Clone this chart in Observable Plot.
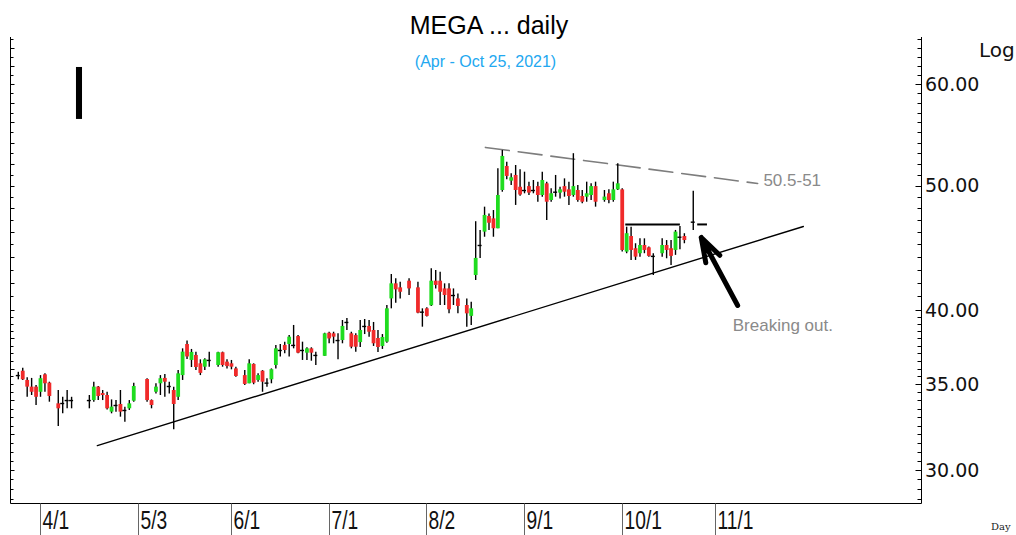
<!DOCTYPE html>
<html><head><meta charset="utf-8">
<script src="https://cdn.jsdelivr.net/npm/d3@7"></script>
<script src="https://cdn.jsdelivr.net/npm/@observablehq/plot@0.6"></script>
<style>body{margin:0;background:#fff}#chart{width:1016px;height:535px}</style>
</head><body><div id="chart"></div>
<script>
// ---- data (weekday index 0 = 2021-03-25; null = no bar drawn) ----
const firstDay = "2021-03-25";
const open = [35.58,35.86,35.27,34.85,34.85,34.53,35.63,35.10,null,33.82,33.84,34.02,34.02,null,null,null,34.02,34.02,34.85,34.45,
34.33,33.32,33.72,33.78,33.42,33.52,33.98,null,null,35.33,34.02,34.53,35.06,35.40,34.89,34.64,34.22,35.58,37.62,36.56,
36.89,36.34,36.12,36.56,null,36.23,37.07,36.45,36.34,36.01,null,35.58,35.06,36.30,35.27,35.86,35.10,35.31,36.23,37.22,
37.56,37.62,37.56,38.16,37.22,37.04,37.33,36.89,null,36.83,38.39,38.35,37.89,37.89,39.14,38.35,38.23,37.75,38.86,38.86,
38.58,38.03,37.49,37.78,40.83,41.95,41.65,null,42.15,null,41.65,39.87,40.11,40.33,42.15,42.15,41.57,41.57,41.08,40.83,
null,40.35,39.57,42.58,44.94,46.03,47.34,47.14,46.31,49.60,51.79,50.44,50.96,49.89,49.60,49.95,49.60,49.95,49.16,50.20,
48.72,49.45,49.37,49.95,49.66,49.16,49.60,49.07,49.01,49.16,49.95,null,48.72,49.31,48.72,49.66,49.66,44.41,45.67,44.68,
44.28,44.94,44.75,44.07,null,44.28,44.94,44.68,44.54,45.61,45.67,null,46.86];
const high = [35.79,36.05,35.44,35.40,34.96,35.58,35.69,35.16,null,34.64,34.22,34.64,34.22,null,null,null,34.33,35.16,34.89,34.64,
34.53,34.06,34.02,34.64,33.62,34.02,35.10,null,null,35.38,34.06,35.06,35.58,35.65,35.16,34.85,35.90,37.33,37.86,37.29,
37.11,36.60,36.67,37.11,null,37.11,37.11,36.60,36.56,36.12,null,35.90,36.60,36.34,35.69,35.90,35.38,36.01,37.56,37.62,
37.78,38.23,38.93,38.23,37.78,37.40,37.40,37.11,null,38.39,38.46,38.46,38.35,39.28,39.42,38.46,38.35,39.28,39.35,39.28,
39.14,38.58,38.30,40.35,42.66,42.33,42.07,null,42.33,null,42.07,40.11,40.18,43.10,42.97,42.84,41.95,41.95,41.57,41.20,
null,40.83,40.59,46.90,46.17,48.14,47.56,47.85,51.58,53.30,52.19,51.12,51.88,51.49,51.26,50.35,50.50,50.35,51.26,50.35,
49.75,50.96,49.89,50.65,50.35,52.99,50.05,49.60,50.35,50.20,50.35,null,49.60,49.66,50.35,52.04,49.75,46.44,46.44,45.08,
45.48,45.48,44.81,44.28,null,45.48,45.34,45.34,46.17,46.50,45.90,null,49.54];
const low = [35.31,35.27,34.22,34.33,33.72,34.22,34.53,33.92,null,32.47,33.22,33.52,33.52,null,null,null,33.52,33.92,34.02,34.02,
33.45,33.22,33.32,33.02,32.72,33.42,33.92,null,null,33.92,33.52,34.43,34.33,34.22,34.43,32.28,34.02,35.27,36.62,36.10,
35.90,35.58,35.90,36.12,null,36.12,36.12,36.01,35.95,35.48,null,34.96,35.06,35.00,35.16,34.53,34.85,35.06,36.01,36.78,
37.00,36.78,37.33,37.00,36.56,36.56,36.51,36.23,null,36.83,37.67,37.67,36.60,37.67,38.58,37.33,37.11,37.42,38.30,38.12,
37.49,37.09,37.29,37.71,40.11,40.52,40.83,null,41.08,null,39.75,38.81,39.52,40.28,41.57,40.35,40.35,39.75,40.35,39.75,
null,38.81,38.93,42.20,43.91,45.61,46.17,45.61,46.31,49.45,50.56,50.05,48.29,49.10,49.31,49.16,49.31,48.57,49.01,47.00,
48.57,49.01,48.86,49.01,48.29,49.01,48.57,48.43,48.57,48.72,48.14,null,48.57,48.43,48.57,49.60,44.41,44.28,43.75,43.75,
44.01,44.28,44.01,42.58,null,44.01,43.88,43.36,44.15,44.59,45.08,null,46.17];
const close = [35.58,35.31,34.85,34.53,34.22,35.38,35.06,34.27,null,33.52,33.84,34.02,34.02,null,null,null,34.02,34.85,34.27,34.33,
33.52,33.62,33.72,33.32,33.42,33.82,34.89,null,null,34.02,33.72,34.85,35.38,35.16,34.89,33.78,35.69,37.11,36.79,37.09,
36.10,35.72,36.60,36.56,null,37.07,36.23,36.16,36.12,35.52,null,35.02,36.34,35.10,35.58,35.16,35.10,35.96,37.33,37.22,
37.22,38.12,37.56,37.04,37.22,37.33,37.04,36.89,null,38.35,38.00,38.12,37.89,38.86,39.14,37.44,37.44,38.58,38.86,38.46,
37.67,37.42,38.10,40.11,41.95,41.50,41.32,null,41.57,null,39.80,39.87,39.57,42.15,41.83,41.32,41.08,40.04,41.08,40.28,
null,39.75,40.11,43.91,44.94,47.43,46.77,46.31,49.16,52.73,50.87,50.75,49.60,49.20,49.60,49.37,49.60,49.16,50.50,48.57,
49.31,49.45,49.66,49.45,49.07,49.95,48.72,48.57,49.31,49.95,48.57,null,49.02,48.72,49.66,50.20,44.54,45.90,44.54,44.01,
44.94,44.54,44.07,44.07,null,44.94,44.54,44.07,46.03,45.61,45.34,null,46.86];

const monthTickDates = ["2021-04-01","2021-05-03","2021-06-01","2021-07-01","2021-08-02","2021-09-01","2021-10-01","2021-11-01"];
const monthTickLabels = ["4/1","5/3","6/1","7/1","8/2","9/1","10/1","11/1"];
const priceLabels = [30, 35, 40, 50, 60];
const minorTicks = [28.5,29,29.5,30,30.5,31,31.5,32,32.5,33,33.5,34,34.5,35,35.5,36,36.5,37,37.5,38,38.5,39,39.5,40,
41,42,43,44,45,46,47,48,49,50,51,52,53,54,55,56,57,58,59,60,61,62,63,64,65];

// annotations (data space: weekday index, price)
const trendLine = [{i: 17.8, p: 31.38}, {i: 176.8, p: 46.50}];
const topLine = [{i: 105.2, p: 53.59}, {i: 166.5, p: 50.23}];
const resistance = [{i1: 136.8, i2: 149.1, p: 46.67}, {i1: 153.0, i2: 155.2, p: 46.67}];
const arrowData = [{i1: 162.0, p1: 40.35, i2: 153.8, p2: 45.59}];
const marker = [{i1: 13.1, i2: 14.46, p1: 56.35, p2: 61.86}];
const notes = [{i: 167.8, p: 50.5, text: "50.5-51"}, {i: 160.9, p: 38.93, text: "Breaking out."}];

// ---- build ----
const days = d3.utcDays(new Date(firstDay + "T00:00Z"), new Date("2021-12-01T00:00Z"))
  .filter(d => d.getUTCDay() % 6 !== 0);
const iso = d => d.toISOString().slice(0, 10);
const idxOf = s => days.findIndex(d => iso(d) === s);

const candles = open.map((o, i) => o == null ? null : {i, o, h: high[i], l: low[i], c: close[i]}).filter(Boolean);
const up = candles.filter(d => d.c - d.o > 0.03);
const down = candles.filter(d => d.o - d.c > 0.03);
const doji = candles.filter(d => Math.abs(d.o - d.c) <= 0.03);

const GREEN = "#1fdc1f", RED = "#f02a2a";
const SANS = "'Liberation Sans', Arial, sans-serif";
const AXF = "'DejaVu Sans', Verdana, sans-serif";

const plot = Plot.plot({
  width: 1016, height: 535,
  marginLeft: 10, marginRight: 95, marginTop: 37, marginBottom: 32,
  x: {type: "linear", domain: [-1.757, 203.4], axis: null},
  y: {type: "log", domain: [28.28, 65.28], axis: null},
  style: {background: "#fff", overflow: "visible"},
  marks: [
    Plot.line(topLine, {x: "i", y: "p", stroke: "#7d7d7d", strokeWidth: 1.6, strokeDasharray: "24,9"}),
    Plot.line(trendLine, {x: "i", y: "p", stroke: "#000", strokeWidth: 1.4}),
    Plot.ruleY(resistance, {x1: "i1", x2: "i2", y: "p", stroke: "#000", strokeWidth: 2}),
    Plot.ruleX(candles, {x: "i", y1: "l", y2: "h", stroke: "#000", strokeWidth: 1.4}),
    Plot.ruleX(up, {x: "i", y1: "o", y2: "c", stroke: GREEN, strokeWidth: 3.8}),
    Plot.ruleX(down, {x: "i", y1: "o", y2: "c", stroke: RED, strokeWidth: 3.8}),
    Plot.ruleY(doji, {x1: d => d.i - 0.45, x2: d => d.i + 0.45, y: "c", stroke: "#000", strokeWidth: 1.4}),
    Plot.rect(marker, {x1: "i1", x2: "i2", y1: "p1", y2: "p2", fill: "#000"}),
    Plot.arrow(arrowData, {x1: "i1", y1: "p1", x2: "i2", y2: "p2", stroke: "#000", strokeWidth: 5, headAngle: 36, headLength: 8}),
    Plot.text(notes, {x: "i", y: "p", text: "text", textAnchor: "start", fill: "#8a8a8a", fontSize: 17, fontFamily: SANS})
  ]
});
document.getElementById("chart").appendChild(plot);

// ---- frame, axes and titles drawn with the plot's own scales ----
const X = plot.scale("x"), Y = plot.scale("y");
const svg = d3.select(plot);
const g = svg.append("g").attr("stroke", "#000").attr("fill", "none");
const L = 10.5, R = 921.5, T = 37, B = 503.5;
g.append("line").attr("x1", L).attr("x2", L).attr("y1", T).attr("y2", B);
g.append("line").attr("x1", R).attr("x2", R).attr("y1", T).attr("y2", B);
g.append("line").attr("x1", L).attr("x2", R).attr("y1", B).attr("y2", B);
minorTicks.forEach(v => {
  const y = Math.round(Y.apply(v)) + 0.5;
  const major = priceLabels.includes(v);
  g.append("line").attr("x1", R).attr("x2", R - (major ? 6 : 4)).attr("y1", y).attr("y2", y);
  g.append("line").attr("x1", L).attr("x2", L + (Number.isInteger(v) && v % 2 === 0 ? 4 : 3)).attr("y1", y).attr("y2", y);
});
const txt = svg.append("g").attr("text-anchor", "start");
txt.selectAll("text.p").data(priceLabels).join("text")
  .attr("x", 925).attr("y", v => Y.apply(v)).attr("dy", "0.36em")
  .attr("font-family", AXF).attr("font-size", 19).attr("fill", "#111")
  .text(v => v.toFixed(2));
monthTickDates.forEach((d, k) => {
  const x = Math.round(X.apply(idxOf(d))) + 0.5;
  txt.append("line").attr("x1", x).attr("x2", x).attr("y1", B).attr("y2", 535).attr("stroke", "#666");
  txt.append("text").attr("transform", `translate(${x + 2},529) scale(0.74,1)`)
    .attr("font-family", SANS).attr("font-size", 26).attr("fill", "#111").text(monthTickLabels[k]);
});
txt.append("text").attr("x", 979).attr("y", 57).attr("font-family", AXF).attr("font-size", 20).attr("fill", "#111").text("Log");
txt.append("text").attr("x", 991).attr("y", 530).attr("font-family", "'DejaVu Serif', serif").attr("font-size", 10).attr("fill", "#222").text("Day");
svg.append("text").attr("x", 489).attr("y", 34).attr("text-anchor", "middle").attr("font-family", SANS).attr("font-size", 25).attr("fill", "#000").text("MEGA ... daily");
svg.append("text").attr("x", 485.5).attr("y", 67).attr("text-anchor", "middle").attr("font-family", SANS).attr("font-size", 16).attr("fill", "#22a8f0").text("(Apr - Oct 25, 2021)");
</script>
</body></html>
